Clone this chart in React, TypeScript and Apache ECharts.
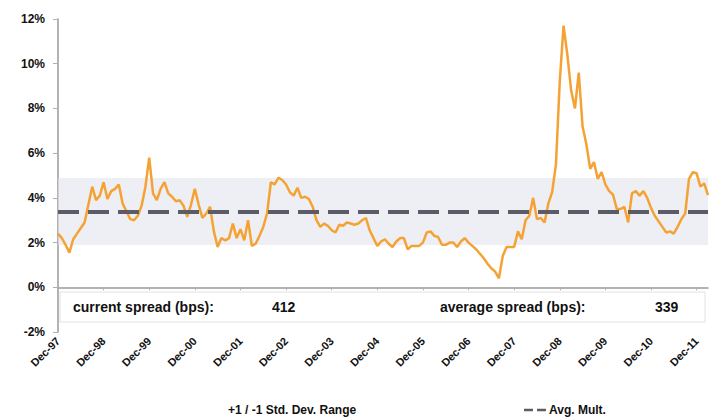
import React, { useEffect, useRef } from "react";
import * as echarts from "echarts";

// Monthly spread (%), Dec-97 .. Mar-12
const spreads: number[] = [
  2.4, 2.2, 1.9, 1.55, 2.15, 2.4, 2.65, 2.9, 3.7, 4.5, 3.9, 4.1,
  4.7, 3.95, 4.3, 4.4, 4.6, 3.75, 3.4, 3.05, 3.0, 3.2, 3.65, 4.5,
  5.8, 4.2, 3.9, 4.4, 4.7, 4.2, 4.05, 3.85, 3.9, 3.65, 3.15, 3.7,
  4.4, 3.7, 3.1, 3.3, 3.6, 2.5, 1.8, 2.2, 2.1, 2.2, 2.85, 2.2,
  2.6, 2.1, 3.0, 1.85, 1.95, 2.3, 2.7, 3.3, 4.7, 4.6, 4.9, 4.8,
  4.6, 4.25, 4.1, 4.45, 4.0, 4.05, 3.95, 3.6, 3.0, 2.7, 2.85, 2.75,
  2.55, 2.45, 2.8, 2.75, 2.9, 2.85, 2.8, 2.85, 3.0, 3.1, 2.55, 2.2,
  1.85, 2.05, 2.15, 1.95, 1.8, 2.05, 2.2, 2.2, 1.7, 1.85, 1.85, 1.85,
  2.0, 2.45, 2.5, 2.3, 2.25, 1.9, 1.9, 2.0, 2.0, 1.8, 2.05, 2.2,
  2.0, 1.85, 1.7, 1.5, 1.3, 1.05, 0.85, 0.7, 0.4, 1.4, 1.8, 1.8,
  1.8, 2.5, 2.15, 3.0, 3.2, 4.0, 3.05, 3.1, 2.9, 3.75, 4.26, 5.5,
  9.2, 11.7, 10.4, 8.8, 8.0, 9.6, 7.2, 6.4, 5.3, 5.6, 4.85, 5.15,
  4.6, 4.3, 4.15, 3.5, 3.5, 3.6, 2.9, 4.2, 4.3, 4.1, 4.3, 4.0,
  3.55, 3.2, 2.95, 2.7, 2.45, 2.5, 2.4, 2.7, 3.05, 3.3, 4.85, 5.15,
  5.1, 4.5, 4.65, 4.12,
];

const monthNames = ["Jan", "Feb", "Mar", "Apr", "May", "Jun", "Jul", "Aug", "Sep", "Oct", "Nov", "Dec"];
const startYear = 1997;
const startMonth = 11; // December
const categories: string[] = spreads.map((_, i) => {
  const m = startMonth + i;
  const y = startYear + Math.floor(m / 12);
  return monthNames[m % 12] + "-" + String(y % 100).padStart(2, "0");
});

const avgSpread = 3.39;
const stdDev = 1.5;
const currentSpreadBps = "412";
const averageSpreadBps = "339";
const yTicks = { min: -2, max: 12, interval: 2 };

const bandLabel = "+1 / -1 Std. Dev. Range";
const avgLabel = "Avg. Mult.";

export default function App() {
  const ref = useRef<HTMLDivElement>(null);
  useEffect(() => {
    if (!ref.current) return;
    const chart = echarts.init(ref.current, null, { renderer: "svg" });
    const font = "'Liberation Sans', Arial, sans-serif";
    chart.setOption({
      animation: false,
      backgroundColor: "#ffffff",
      grid: { left: 58, right: 3, top: 19, bottom: 88, containLabel: false },
      xAxis: {
        type: "category",
        data: categories,
        boundaryGap: false,
        axisLine: { lineStyle: { color: "#9a9a9a", width: 1.5 } },
        axisTick: { show: true, interval: 11, length: 3, lineStyle: { color: "#b0b0b0" } },
        axisLabel: {
          interval: 11,
          rotate: 45,
          fontFamily: font,
          fontWeight: "bold",
          fontSize: 11,
          color: "#111",
          margin: 7,
        },
        splitLine: { show: false },
      },
      yAxis: {
        type: "value",
        min: yTicks.min,
        max: yTicks.max,
        interval: yTicks.interval,
        axisLine: { show: true, lineStyle: { color: "#9a9a9a", width: 1.5 } },
        axisTick: { show: true, length: 5, lineStyle: { color: "#b0b0b0" } },
        axisLabel: {
          formatter: "{value}%",
          fontFamily: font,
          fontWeight: "bold",
          fontSize: 12,
          color: "#111",
          margin: 13,
        },
        splitLine: { show: false },
      },
      series: [
        {
          name: "Spread",
          type: "line",
          data: spreads,
          symbol: "none",
          z: 3,
          lineStyle: { color: "#f5a234", width: 2.5 },
          markArea: {
            silent: true,
            itemStyle: { color: "rgba(226,229,238,0.6)" },
            data: [[{ yAxis: avgSpread - stdDev }, { yAxis: avgSpread + stdDev }]],
          },
          markLine: {
            silent: true,
            symbol: "none",
            label: { show: false },
            lineStyle: { color: "#5c5c68", width: 4, type: [21, 9] },
            data: [{ yAxis: avgSpread }],
            z: 4,
          },
        },
      ],
      graphic: [
        {
          type: "rect",
          z: 100,
          shape: { x: 60, y: 292, width: 645, height: 30 },
          style: { fill: "#ffffff", stroke: "#e2e2e2", lineWidth: 1 },
        },
        {
          type: "text",
          z: 101,
          x: 73,
          y: 307,
          style: { text: "current spread (bps):", font: `bold 14px ${font}`, fill: "#111", verticalAlign: "middle" },
        },
        {
          type: "text",
          z: 101,
          x: 272,
          y: 307,
          style: { text: currentSpreadBps, font: `bold 14px ${font}`, fill: "#111", verticalAlign: "middle" },
        },
        {
          type: "text",
          z: 101,
          x: 440,
          y: 307,
          style: { text: "average spread (bps):", font: `bold 14px ${font}`, fill: "#111", verticalAlign: "middle" },
        },
        {
          type: "text",
          z: 101,
          x: 655,
          y: 307,
          style: { text: averageSpreadBps, font: `bold 14px ${font}`, fill: "#111", verticalAlign: "middle" },
        },
        {
          type: "text",
          x: 228,
          y: 410,
          style: { text: bandLabel, font: `bold 12px ${font}`, fill: "#111", verticalAlign: "middle" },
        },
        {
          type: "line",
          shape: { x1: 524, y1: 410, x2: 546, y2: 410 },
          style: { stroke: "#5c5c68", lineWidth: 2.5, lineDash: [9, 4] },
        },
        {
          type: "text",
          x: 549,
          y: 410,
          style: { text: avgLabel, font: `bold 12px ${font}`, fill: "#111", verticalAlign: "middle" },
        },
      ],
    });
    return () => chart.dispose();
  }, []);
  return (
    <div
      ref={ref}
      style={{ position: "fixed", left: 0, top: 0, width: 711, height: 420 }}
    />
  );
}
